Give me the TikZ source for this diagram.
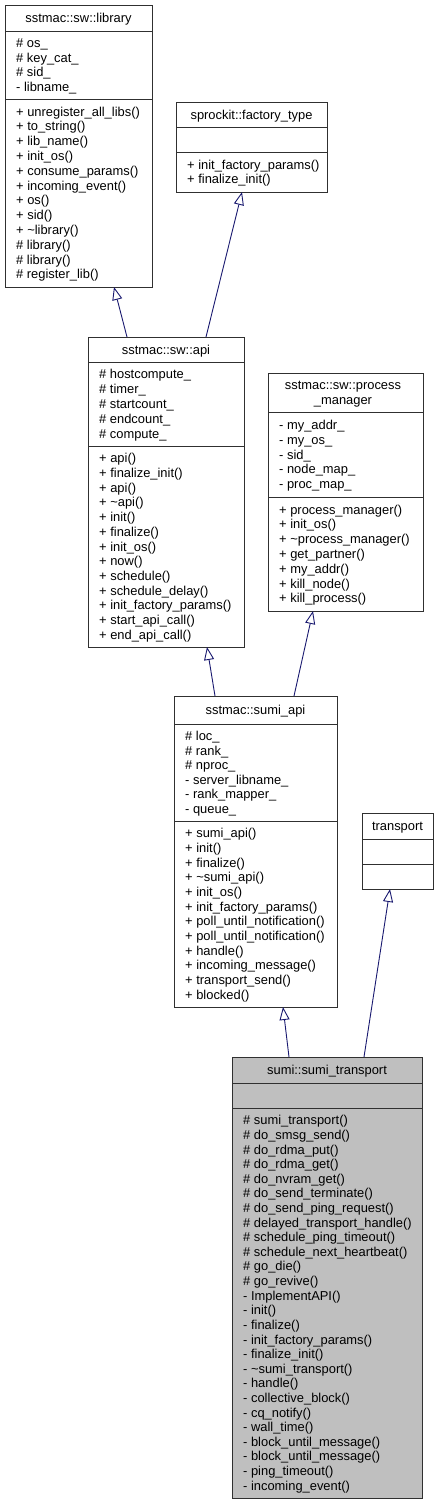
\documentclass[tikz,border=0pt]{standalone}
\usepackage{fontspec}
\setmainfont{Liberation Sans}
\usetikzlibrary{arrows.meta,calc}
\definecolor{edgeblue}{HTML}{191970}
\definecolor{boxgray}{HTML}{BFBFBF}
\definecolor{boxline}{HTML}{303030}
\newcommand\umlmembers[6]{%
  \pgfmathsetmacro\mpitch{min(14.8,(#4-#3-10)/#5)}%
  \pgfmathsetmacro\mmid{(#3+#4)/2}%
  \foreach \t [count=\i] in {#6} {
    \node[txt] (#1-\i) at (#2, {\mmid+(\i-(#5+1)/2)*\mpitch}) {\t};
  }}
\begin{document}
\begin{tikzpicture}[x=1pt,y=-1pt,
  box/.style={draw=boxline, line width=1pt, fill=white, anchor=north west, inner sep=0pt, outer sep=0pt},
  sepline/.style={draw=boxline, line width=1pt},
  txt/.style={anchor=west, inner sep=0pt, text height=10pt, text depth=1pt, font=\fontsize{12.9}{14}\selectfont},
  ttl/.style={txt, anchor=center},
  inherit/.style={draw=edgeblue, line width=0.9pt, -{Triangle[length=13pt, width=10pt, fill=white]}}]
\useasboundingbox (0,0) rectangle (441,1505);
\fill[white] (0,0) rectangle (441,1505);

% sstmac::sw::library
\node[box, minimum width=147pt, minimum height=282pt] (lib) at (5,5) {};
\draw[sepline] (lib.west |- 0,31) -- (lib.east |- 0,31);
\draw[sepline] (lib.west |- 0,99) -- (lib.east |- 0,99);
\node[ttl] (lib-t) at (78.5,18) {sstmac::sw::library};
\umlmembers{liba}{16}{31}{99}{4}{\#~os\_, \#~key\_cat\_, \#~sid\_, - libname\_}
\umlmembers{libm}{16}{99}{287}{12}{+ unregister\_all\_libs(), + to\_string(), + lib\_name(), + init\_os(), + consume\_params(), + incoming\_event(), + os(), + sid(), + \textasciitilde library(), \#~library(), \#~library(), \#~register\_lib()}

% sprockit::factory_type
\node[box, minimum width=151pt, minimum height=90pt] (fac) at (176,102) {};
\draw[sepline] (fac.west |- 0,127) -- (fac.east |- 0,127);
\draw[sepline] (fac.west |- 0,152) -- (fac.east |- 0,152);
\node[ttl] (fac-t) at (251.5,114.5) {sprockit::factory\_type};
\umlmembers{facm}{187}{152}{192}{2}{+ init\_factory\_params(), + finalize\_init()}

% sstmac::sw::api
\node[box, minimum width=156pt, minimum height=310pt] (api) at (88,337) {};
\draw[sepline] (api.west |- 0,362) -- (api.east |- 0,362);
\draw[sepline] (api.west |- 0,446) -- (api.east |- 0,446);
\node[ttl] (api-t) at (166,349.5) {sstmac::sw::api};
\umlmembers{apia}{99}{362}{446}{5}{\#~hostcompute\_, \#~timer\_, \#~startcount\_, \#~endcount\_, \#~compute\_}
\umlmembers{apim}{99}{446}{647}{13}{+ api(), + finalize\_init(), + api(), + \textasciitilde api(), + init(), + finalize(), + init\_os(), + now(), + schedule(), + schedule\_delay(), + init\_factory\_params(), + start\_api\_call(), + end\_api\_call()}

% sstmac::sw::process_manager
\node[box, minimum width=155pt, minimum height=238pt] (pm) at (268,373) {};
\draw[sepline] (pm.west |- 0,412) -- (pm.east |- 0,412);
\draw[sepline] (pm.west |- 0,497) -- (pm.east |- 0,497);
\node[ttl] (pm-t1) at (343,385) {sstmac::sw::process};
\node[ttl] (pm-t2) at (343,400) {\_manager};
\umlmembers{pma}{279}{412}{497}{5}{- my\_addr\_, - my\_os\_, - sid\_, - node\_map\_, - proc\_map\_}
\umlmembers{pmm}{279}{497}{611}{7}{+ process\_manager(), + init\_os(), + \textasciitilde process\_manager(), + get\_partner(), + my\_addr(), + kill\_node(), + kill\_process()}

% sstmac::sumi_api
\node[box, minimum width=163pt, minimum height=311pt] (sa) at (174,696) {};
\draw[sepline] (sa.west |- 0,724) -- (sa.east |- 0,724);
\draw[sepline] (sa.west |- 0,821) -- (sa.east |- 0,821);
\node[ttl] (sa-t) at (255.5,710) {sstmac::sumi\_api};
\umlmembers{saa}{185}{724}{821}{6}{\#~loc\_, \#~rank\_, \#~nproc\_, - server\_libname\_, - rank\_mapper\_, - queue\_}
\umlmembers{sam}{185}{821}{1007}{12}{+ sumi\_api(), + init(), + finalize(), + \textasciitilde sumi\_api(), + init\_os(), + init\_factory\_params(), + poll\_until\_notification(), + poll\_until\_notification(), + handle(), + incoming\_message(), + transport\_send(), + blocked()}

% transport
\node[box, minimum width=71pt, minimum height=76pt] (tr) at (362,813) {};
\draw[sepline] (tr.west |- 0,839) -- (tr.east |- 0,839);
\draw[sepline] (tr.west |- 0,864) -- (tr.east |- 0,864);
\node[ttl] (tr-t) at (397.5,826) {transport};

% sumi::sumi_transport
\node[box, fill=boxgray, minimum width=190pt, minimum height=441pt] (st) at (232,1057) {};
\draw[sepline] (st.west |- 0,1083) -- (st.east |- 0,1083);
\draw[sepline] (st.west |- 0,1108) -- (st.east |- 0,1108);
\node[ttl] (st-t) at (327,1070) {sumi::sumi\_transport};
\umlmembers{stm}{243}{1108}{1498}{26}{\#~sumi\_transport(), \#~do\_smsg\_send(), \#~do\_rdma\_put(), \#~do\_rdma\_get(), \#~do\_nvram\_get(), \#~do\_send\_terminate(), \#~do\_send\_ping\_request(), \#~delayed\_transport\_handle(), \#~schedule\_ping\_timeout(), \#~schedule\_next\_heartbeat(), \#~go\_die(), \#~go\_revive(), - ImplementAPI(), - init(), - finalize(), - init\_factory\_params(), - finalize\_init(), - \textasciitilde sumi\_transport(), - handle(), - collective\_block(), - cq\_notify(), - wall\_time(), - block\_until\_message(), - block\_until\_message(), - ping\_timeout(), - incoming\_event()}

% inheritance edges
\draw[inherit] ($(api.north west)+(39,0)$) -- ($(lib.south west)+(109,0)$);
\draw[inherit] ($(api.north west)+(118,0)$) -- ($(fac.south west)+(66,0)$);
\draw[inherit] ($(sa.north west)+(41,0)$) -- ($(api.south west)+(119,0)$);
\draw[inherit] ($(sa.north west)+(120,0)$) -- ($(pm.south west)+(45,0)$);
\draw[inherit] ($(st.north west)+(57,0)$) -- ($(sa.south west)+(109,0)$);
\draw[inherit] ($(st.north west)+(132,0)$) -- ($(tr.south west)+(28,0)$);
\end{tikzpicture}
\end{document}
